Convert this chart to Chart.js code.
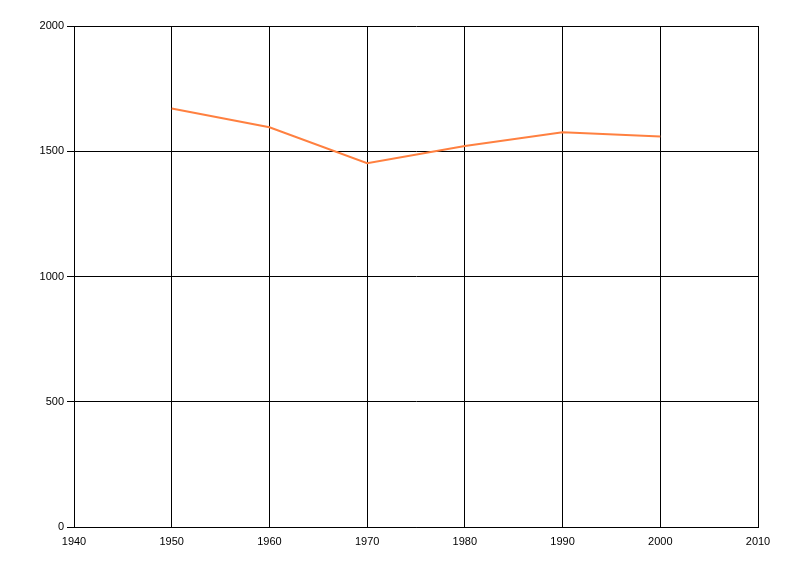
<!DOCTYPE html>
<html>
<head>
<meta charset="utf-8">
<script src="https://cdn.jsdelivr.net/npm/chart.js@4"></script>
<style>
html,body{margin:0;padding:0;background:#fff;}
#c{display:block;}
</style>
</head>
<body>
<canvas id="c" width="800" height="576"></canvas>
<script>
const years = [1950, 1960, 1970, 1980, 1990, 2000];
const values = [1671, 1596, 1452, 1521, 1576, 1559];
const xMin = 1940, xMax = 2010, xStep = 10;
const yMin = 0, yMax = 2000, yStep = 500;

const font = {family: "'Liberation Sans', 'DejaVu Sans', sans-serif", size: 11};

new Chart(document.getElementById('c'), {
  type: 'line',
  data: {
    datasets: [{
      data: years.map((y, i) => ({x: y, y: values[i]})),
      borderColor: 'rgb(255,128,64)',
      borderWidth: 2,
      pointRadius: 0,
      tension: 0,
      fill: false
    }]
  },
  options: {
    responsive: false,
    animation: false,
    devicePixelRatio: 1,
    plugins: {legend: {display: false}, tooltip: {enabled: false}},
    layout: {padding: {top: 26, right: 42, left: 0, bottom: 0}},
    scales: {
      x: {
        type: 'linear',
        min: xMin, max: xMax,
        border: {display: true, color: '#000', width: 1},
        grid: {color: '#000', lineWidth: 1, drawTicks: false},
        ticks: {stepSize: xStep, color: '#000', font: font, padding: 8, maxRotation: 0,
                callback: v => String(v)},
        afterFit: s => { s.height = 49; }
      },
      y: {
        min: yMin, max: yMax,
        border: {display: true, color: '#000', width: 1},
        grid: {color: '#000', lineWidth: 1, tickLength: 7},
        ticks: {stepSize: yStep, color: '#000', font: font, padding: 3,
                callback: v => String(v)},
        afterFit: s => { s.width = 74; }
      }
    }
  }
});
</script>
</body>
</html>
